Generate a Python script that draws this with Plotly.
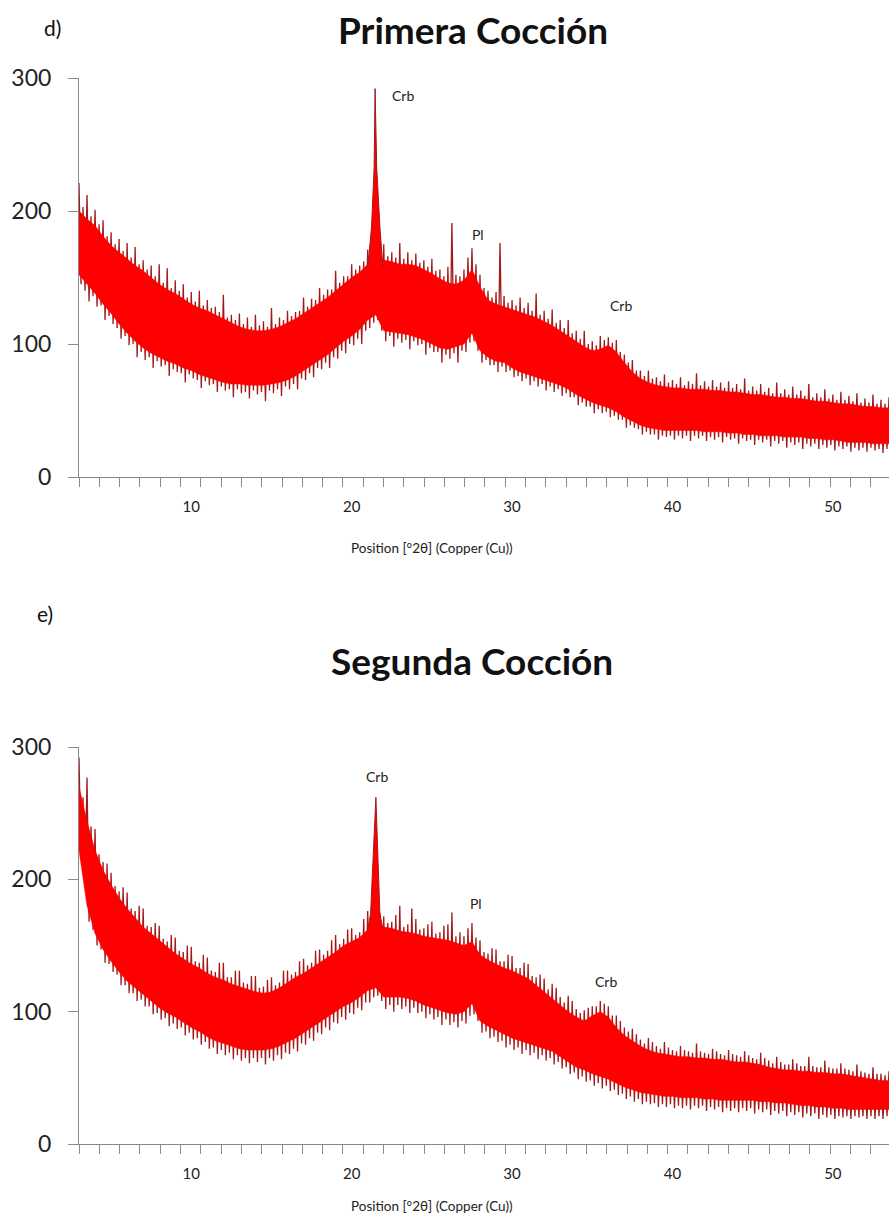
import plotly.graph_objects as go

# ---------------- data ----------------
# body of the band (dense part), 0.5 deg steps from 3.0 to 53.5
two_theta = [round(3.0 + 0.5 * i, 2) for i in range(102)]

# ---- d) Primera Coccion ----
d_body_top = [200, 194, 189, 181, 174, 169, 164, 159, 155, 150, 145, 141, 138, 134, 130, 127, 125, 122, 119, 116,
              113, 111, 110, 110, 111, 113, 116, 119, 123, 127, 131, 135, 140, 145, 150, 154, 160, 162, 163, 162,
              160, 160, 159, 156, 153, 149, 146, 145, 148, 156, 143, 133, 130, 128, 126, 124, 122, 120, 117, 114,
              110, 106, 102, 98, 95, 96, 99, 94, 86, 79, 74, 71, 69, 68, 67, 67, 66, 66, 66, 65,
              65, 64, 64, 63, 62, 62, 61, 60, 60, 59, 59, 58, 57, 57, 56, 55, 55, 54, 53, 53,
              52, 52]
d_body_bottom = [152, 145, 138, 130, 123, 115, 108, 102, 97, 93, 90, 87, 85, 82, 80, 77, 75, 73, 71, 70,
                 70, 69, 69, 69, 70, 71, 73, 76, 80, 84, 88, 92, 97, 102, 106, 111, 118, 122, 110, 109,
                 108, 107, 105, 103, 100, 97, 96, 98, 100, 108, 95, 90, 87, 86, 82, 79, 77, 75, 73, 71,
                 69, 66, 62, 59, 56, 54, 52, 49, 45, 42, 39, 37, 36, 35, 35, 35, 35, 35, 34, 34,
                 34, 33, 33, 32, 32, 31, 31, 31, 30, 30, 30, 29, 29, 28, 28, 27, 26, 26, 26, 25,
                 25, 25]
# noise tips, 0.25 deg steps from 3.0 to 53.5 (one row = 5 degrees)
d_tips_high = [
    221, 203, 212, 196, 201, 190, 193, 181, 184, 175, 179, 170, 176, 165, 173, 160, 163, 156, 159, 151,
    160, 146, 157, 142, 148, 140, 145, 135, 139, 132, 140, 129, 133, 127, 128, 124, 137, 120, 122, 118,
    123, 115, 120, 113, 122, 114, 117, 113, 127, 115, 120, 118, 125, 121, 124, 125, 135, 128, 134, 133,
    142, 137, 141, 141, 155, 146, 151, 151, 160, 156, 159, 162, 171, 165, 170, 166, 175, 166, 169, 165,
    176, 164, 169, 163, 168, 161, 163, 158, 164, 155, 156, 151, 158, 191, 152, 151, 156, 165, 172, 160,
    152, 142, 140, 135, 139, 176, 136, 131, 133, 129, 135, 127, 131, 125, 138, 122, 125, 119, 126, 116,
    118, 112, 118, 108, 110, 104, 110, 100, 102, 99, 106, 103, 105, 101, 103, 94, 92, 86, 88, 80,
    80, 76, 80, 74, 75, 72, 77, 71, 73, 70, 75, 69, 72, 70, 78, 69, 72, 68, 73, 68,
    71, 67, 72, 67, 70, 66, 74, 65, 68, 65, 70, 64, 67, 63, 71, 63, 66, 62, 68, 62,
    65, 61, 70, 60, 63, 60, 66, 59, 62, 58, 64, 58, 61, 57, 63, 56, 59, 56, 62, 55,
    58, 55, 60]
d_tips_low = [
    145, 140, 132, 136, 128, 129, 118, 121, 115, 112, 104, 106, 99, 100, 90, 94, 88, 90, 82, 87,
    83, 84, 76, 81, 79, 78, 71, 77, 74, 73, 67, 72, 69, 70, 64, 68, 65, 66, 60, 66,
    63, 64, 59, 65, 62, 64, 57, 65, 63, 66, 61, 68, 66, 70, 66, 74, 73, 78, 75, 82,
    81, 86, 82, 90, 89, 95, 93, 100, 99, 104, 100, 110, 112, 116, 118, 110, 102, 106, 98, 104,
    101, 103, 96, 102, 99, 100, 92, 97, 94, 94, 86, 92, 89, 93, 86, 95, 94, 101, 102, 95,
    86, 88, 84, 84, 79, 83, 79, 80, 75, 76, 72, 74, 69, 72, 68, 70, 65, 68, 64, 66,
    61, 63, 60, 60, 54, 56, 53, 53, 48, 51, 48, 49, 45, 46, 43, 43, 37, 39, 37, 36,
    32, 34, 32, 32, 28, 31, 30, 31, 28, 31, 29, 31, 27, 31, 29, 31, 27, 30, 28, 30,
    26, 30, 28, 29, 25, 29, 27, 28, 24, 28, 26, 28, 23, 27, 25, 27, 22, 26, 24, 26,
    21, 25, 23, 25, 21, 24, 22, 24, 20, 23, 21, 23, 19, 22, 20, 22, 19, 22, 20, 21,
    18, 21, 20]
d_peak_x = [21.0, 21.24, 21.4, 21.46, 21.56, 21.76, 21.95]
d_peak_y = [157, 188, 233, 292, 233, 188, 157]

# ---- e) Segunda Coccion ----
e_body_top = [270, 244, 222, 207, 196, 186, 178, 171, 164, 159, 154, 149, 144, 140, 136, 133, 129, 126, 124, 121,
              119, 117, 115, 114, 115, 118, 122, 126, 129, 133, 137, 141, 145, 150, 153, 156, 162, 164, 164, 163,
              161, 160, 159, 157, 156, 155, 154, 152, 150, 153, 143, 139, 136, 133, 131, 128, 125, 120, 115, 110,
              105, 100, 96, 93, 97, 100, 96, 88, 82, 78, 74, 71, 69, 68, 67, 66, 66, 65, 65, 64,
              64, 63, 62, 62, 61, 60, 58, 57, 56, 56, 55, 55, 54, 54, 53, 53, 52, 51, 50, 49,
              48, 48]
e_body_bottom = [222, 180, 159, 147, 138, 130, 123, 118, 113, 108, 103, 99, 96, 92, 88, 85, 81, 78, 76, 74,
                 72, 71, 71, 71, 72, 74, 77, 80, 84, 88, 92, 96, 100, 104, 107, 111, 116, 118, 111, 111,
                 111, 110, 108, 105, 103, 101, 99, 98, 100, 106, 93, 89, 86, 83, 80, 78, 76, 74, 72, 70,
                 66, 62, 58, 56, 53, 51, 49, 46, 43, 41, 39, 38, 37, 36, 36, 35, 35, 35, 34, 34,
                 33, 33, 33, 33, 33, 32, 32, 31, 31, 30, 29, 29, 28, 28, 27, 27, 26, 26, 26, 26,
                 26, 26]
e_tips_high = [
    292, 262, 277, 240, 238, 219, 213, 212, 205, 195, 191, 194, 190, 178, 176, 180, 178, 165, 164, 167,
    165, 155, 153, 158, 156, 146, 145, 150, 149, 138, 137, 143, 141, 131, 130, 137, 137, 126, 126, 131,
    131, 122, 121, 127, 127, 118, 119, 124, 126, 120, 122, 131, 131, 128, 130, 138, 140, 135, 137, 146,
    147, 143, 146, 154, 158, 151, 155, 162, 163, 158, 160, 170, 176, 167, 168, 175, 172, 167, 168, 173,
    180, 164, 166, 178, 170, 162, 163, 166, 168, 159, 160, 165, 166, 175, 157, 160, 157, 163, 167, 156,
    154, 145, 144, 148, 147, 138, 138, 143, 142, 133, 133, 137, 136, 127, 126, 128, 125, 117, 121, 118,
    111, 107, 112, 108, 102, 99, 101, 103, 104, 104, 108, 106, 104, 97, 97, 93, 88, 85, 87, 83,
    79, 76, 80, 77, 74, 72, 77, 73, 71, 70, 74, 71, 70, 69, 76, 70, 69, 68, 72, 70,
    68, 67, 71, 68, 67, 66, 70, 67, 65, 64, 69, 65, 63, 61, 66, 62, 60, 60, 64, 61,
    59, 59, 66, 59, 58, 58, 63, 58, 57, 57, 61, 57, 56, 55, 60, 55, 54, 53, 58, 53,
    53, 52, 55]
e_tips_low = [
    215, 194, 168, 162, 150, 147, 137, 136, 130, 128, 120, 120, 114, 114, 108, 109, 104, 104, 98, 99,
    94, 95, 89, 91, 87, 88, 82, 84, 79, 80, 75, 77, 72, 73, 68, 71, 67, 69, 64, 67,
    63, 65, 61, 65, 62, 65, 60, 65, 63, 67, 64, 69, 68, 72, 70, 76, 75, 80, 78, 84,
    83, 88, 86, 92, 91, 96, 94, 99, 98, 103, 101, 107, 107, 111, 112, 108, 102, 105, 100, 105,
    102, 104, 99, 103, 99, 100, 95, 98, 94, 96, 90, 94, 90, 92, 88, 93, 91, 97, 98, 93,
    84, 85, 80, 81, 77, 78, 73, 75, 71, 73, 68, 71, 67, 69, 64, 67, 63, 65, 60, 62,
    57, 58, 53, 54, 49, 51, 47, 48, 44, 46, 42, 44, 40, 41, 37, 38, 34, 36, 32, 34,
    30, 32, 30, 31, 28, 30, 28, 30, 27, 29, 27, 29, 26, 29, 27, 29, 25, 28, 26, 28,
    24, 27, 25, 27, 24, 27, 25, 27, 23, 26, 24, 26, 22, 25, 23, 25, 21, 24, 22, 24,
    20, 23, 21, 23, 19, 22, 20, 22, 19, 21, 20, 21, 19, 21, 20, 21, 19, 21, 19, 21,
    19, 21, 20]
e_peak_x = [21.0, 21.18, 21.32, 21.51, 21.65, 21.76, 21.95]
e_peak_y = [162, 174, 212, 262, 212, 174, 162]

y_ticks = [0, 100, 200, 300]
x_ticks = [10, 20, 30, 40, 50]
x_minor = [round(3.0 + 1.2656 * k, 3) for k in range(40)]

RED = "#ff0000"
DARK = "#a31818"
AXIS = "#8a8a8a"
FONT = "Lato"

fig = go.Figure()


def add_pattern(xa, ya, top, bottom, high, low, px, py):
    zx, zy = [], []
    for j, (h, l) in enumerate(zip(high, low)):
        x = 3.0 + 0.25 * j
        zx += [x, x + 0.125]
        zy += [h, l]
    fig.add_trace(go.Scatter(x=zx, y=zy, mode="lines", line=dict(color=DARK, width=1.3),
                             xaxis=xa, yaxis=ya, hoverinfo="skip", showlegend=False))
    fig.add_trace(go.Scatter(x=two_theta + two_theta[::-1], y=top + bottom[::-1], mode="lines",
                             fill="toself", fillcolor=RED, line=dict(color=RED, width=0.5),
                             xaxis=xa, yaxis=ya, hoverinfo="skip", showlegend=False))
    fig.add_trace(go.Scatter(x=px, y=py, mode="lines", fill="toself", fillcolor=RED,
                             line=dict(color=DARK, width=1), xaxis=xa, yaxis=ya,
                             hoverinfo="skip", showlegend=False))


add_pattern("x", "y", d_body_top, d_body_bottom, d_tips_high, d_tips_low, d_peak_x, d_peak_y)
add_pattern("x2", "y2", e_body_top, e_body_bottom, e_tips_high, e_tips_low, e_peak_x, e_peak_y)

H = 1218.0
W = 889.0


def xaxis_cfg(anchor):
    return dict(domain=[79 / W, 1.0], range=[3.0, 53.5], anchor=anchor, automargin=False,
                showline=True, linecolor=AXIS, linewidth=1, showgrid=False, zeroline=False,
                tickmode="array", tickvals=x_ticks, ticks="", ticklabelstandoff=16,
                tickfont=dict(family=FONT, size=15, color="#222222"),
                minor=dict(tickmode="array", tickvals=x_minor, ticks="outside", ticklen=9,
                           tickcolor=AXIS, tickwidth=1, showgrid=False))


def yaxis_cfg(anchor, top_px, bottom_px):
    return dict(domain=[1 - bottom_px / H, 1 - top_px / H], range=[0, 300], anchor=anchor, automargin=False,
                showline=True, linecolor=AXIS, linewidth=1, showgrid=False, zeroline=False,
                tickmode="array", tickvals=y_ticks, ticks="outside", ticklen=10, tickcolor=AXIS,
                ticklabelstandoff=12, tickfont=dict(family=FONT, size=23, color="#222222"))


annotations = [
    dict(text="d)", x=42 / W, y=1 - 28 / H, xref="paper", yref="paper", xanchor="left", yanchor="middle",
         showarrow=False, font=dict(family=FONT, size=21, color="#111111")),
    dict(text="<b>Primera Cocción</b>", x=473 / W, y=1 - 29 / H, xref="paper", yref="paper",
         xanchor="center", yanchor="middle", showarrow=False, font=dict(family=FONT, size=37, color="#111111")),
    dict(text="Position [°2θ] (Copper (Cu))", x=432 / W, y=1 - 548 / H, xref="paper", yref="paper",
         xanchor="center", yanchor="middle", showarrow=False, font=dict(family=FONT, size=13.5, color="#222222")),
    dict(text="e)", x=35 / W, y=1 - 613 / H, xref="paper", yref="paper", xanchor="left", yanchor="middle",
         showarrow=False, font=dict(family=FONT, size=21, color="#111111")),
    dict(text="<b>Segunda Cocción</b>", x=472 / W, y=1 - 661 / H, xref="paper", yref="paper",
         xanchor="center", yanchor="middle", showarrow=False, font=dict(family=FONT, size=37, color="#111111")),
    dict(text="Position [°2θ] (Copper (Cu))", x=432 / W, y=1 - 1206 / H, xref="paper", yref="paper",
         xanchor="center", yanchor="middle", showarrow=False, font=dict(family=FONT, size=13.5, color="#222222")),
]

peak_labels = [
    ("x", "y", 23.19, 287, "Crb"), ("x", "y", 27.87, 182, "Pl"), ("x", "y", 36.78, 129, "Crb"),
    ("x2", "y2", 21.57, 278, "Crb"), ("x2", "y2", 27.74, 182, "Pl"), ("x2", "y2", 35.85, 123, "Crb"),
]
for xa, ya, xv, yv, txt in peak_labels:
    annotations.append(dict(text=txt, x=xv, y=yv, xref=xa, yref=ya, xanchor="center", yanchor="middle",
                            showarrow=False, font=dict(family=FONT, size=14, color="#222222")))

fig.update_layout(
    width=889, height=1218, margin=dict(l=0, r=0, t=0, b=0, autoexpand=False),
    paper_bgcolor="white", plot_bgcolor="white", showlegend=False,
    xaxis=xaxis_cfg("y"), yaxis=yaxis_cfg("x", 78, 477),
    xaxis2=xaxis_cfg("y2"), yaxis2=yaxis_cfg("x2", 747, 1144),
    annotations=annotations,
)

fig.write_html("out.html")
